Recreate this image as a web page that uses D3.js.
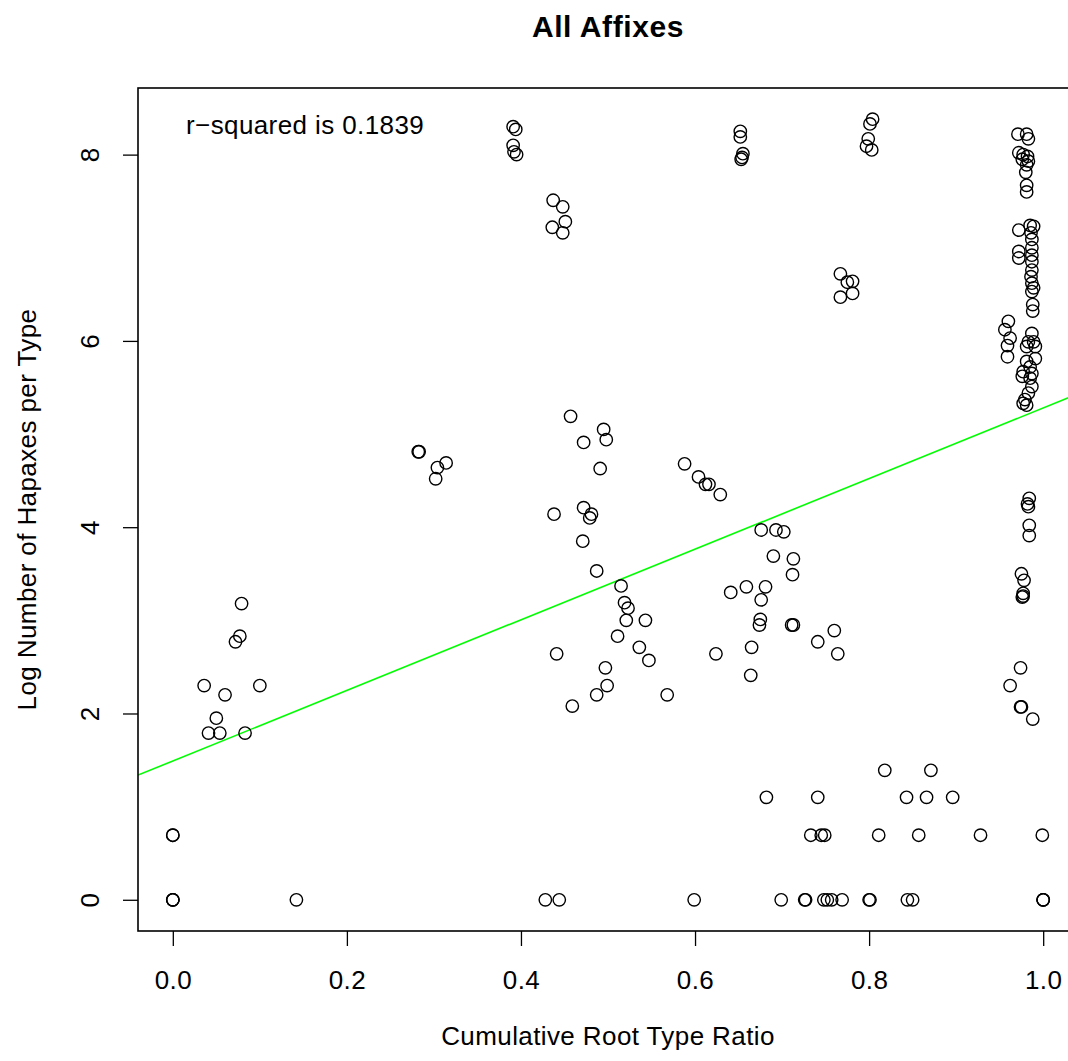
<!DOCTYPE html>
<html>
<head>
<meta charset="utf-8">
<script src="https://cdn.jsdelivr.net/npm/d3@7"></script>
<style>
  body { margin: 0; background: #fff; }
  svg text { font-family: "Liberation Sans", Arial, Helvetica, sans-serif; fill: #000; }
</style>
</head>
<body>
<div id="chart"></div>
<script>
// cumulative root type ratio (x) and log number of hapaxes per type (y)
const rootRatio = [
  0.000, 0.000, 0.000, 0.000, 0.000, 0.142,
  0.036, 0.100, 0.060, 0.050, 0.041, 0.054, 0.083,
  0.072, 0.077, 0.079,
  0.282, 0.283, 0.314, 0.304, 0.302,
  0.391, 0.394, 0.391, 0.392, 0.395,
  0.437, 0.448, 0.451, 0.436, 0.448,
  0.652, 0.652, 0.655, 0.654, 0.653,
  0.804, 0.801, 0.799, 0.797, 0.803,
  0.767, 0.775, 0.781, 0.781, 0.767,
  // middle cloud
  0.457, 0.495, 0.472, 0.498, 0.491, 0.588, 0.604, 0.612, 0.616, 0.629,
  0.438, 0.472, 0.481, 0.479, 0.471, 0.487, 0.515, 0.519, 0.523, 0.521,
  0.543, 0.511, 0.536, 0.441, 0.547, 0.497, 0.624, 0.664, 0.676, 0.693,
  0.702, 0.690, 0.713, 0.712, 0.641, 0.659, 0.681, 0.676, 0.675, 0.674,
  0.711, 0.713, 0.665, 0.760, 0.741, 0.764,
  0.499, 0.487, 0.459, 0.568,
  // low values
  0.818, 0.871, 0.682, 0.741, 0.843, 0.866, 0.896,
  0.733, 0.745, 0.749, 0.811, 0.857, 0.928, 0.999,
  0.428, 0.444, 0.599, 0.699, 0.726, 0.727, 0.748, 0.752, 0.757, 0.769,
  0.800, 0.801, 0.844, 0.850, 1.000, 1.000, 1.000,
  // column near 1.0
  0.971, 0.981, 0.983, 0.972, 0.977, 0.982, 0.976, 0.983, 0.981, 0.980,
  0.981, 0.981, 0.972, 0.985, 0.989, 0.986, 0.987, 0.972, 0.987, 0.987,
  0.987, 0.972, 0.987, 0.986, 0.987, 0.989, 0.987, 0.988, 0.988,
  0.960, 0.956, 0.962, 0.959, 0.959,
  0.987, 0.983, 0.989, 0.981, 0.991, 0.991, 0.981, 0.985, 0.977, 0.987,
  0.976, 0.985, 0.987, 0.983, 0.979, 0.981, 0.977,
  0.984, 0.982, 0.983, 0.984, 0.984, 0.975, 0.978, 0.977, 0.977, 0.976,
  0.974, 0.962, 0.974, 0.975, 0.988
];

const logHapaxes = [
  0, 0, 0, 0.693, 0.693, 0,
  2.30, 2.30, 2.20, 1.95, 1.79, 1.79, 1.79,
  2.77, 2.83, 3.18,
  4.81, 4.81, 4.69, 4.64, 4.52,
  8.30, 8.27, 8.10, 8.03, 8.00,
  7.51, 7.44, 7.28, 7.22, 7.16,
  8.25, 8.19, 8.01, 7.97, 7.95,
  8.38, 8.33, 8.17, 8.09, 8.05,
  6.72, 6.63, 6.64, 6.51, 6.47,
  // middle cloud
  5.19, 5.05, 4.91, 4.94, 4.63, 4.68, 4.54, 4.46, 4.46, 4.35,
  4.14, 4.21, 4.14, 4.10, 3.85, 3.53, 3.37, 3.19, 3.13, 3.00,
  3.00, 2.83, 2.71, 2.64, 2.57, 2.49, 2.64, 2.41, 3.97, 3.97,
  3.95, 3.69, 3.66, 3.49, 3.30, 3.36, 3.36, 3.22, 3.01, 2.95,
  2.95, 2.95, 2.71, 2.89, 2.77, 2.64,
  2.30, 2.20, 2.08, 2.20,
  // low values
  1.39, 1.39, 1.10, 1.10, 1.10, 1.10, 1.10,
  0.693, 0.693, 0.693, 0.693, 0.693, 0.693, 0.693,
  0, 0, 0, 0, 0, 0, 0, 0, 0, 0,
  0, 0, 0, 0, 0, 0, 0,
  // column near 1.0
  8.22, 8.22, 8.17, 8.02, 8.00, 7.98, 7.95, 7.93, 7.89, 7.81,
  7.67, 7.60, 7.19, 7.24, 7.23, 7.16, 7.09, 6.96, 7.00, 6.92,
  6.85, 6.89, 6.76, 6.69, 6.62, 6.57, 6.53, 6.39, 6.32,
  6.21, 6.12, 6.03, 5.95, 5.83,
  6.08, 5.99, 5.99, 5.94, 5.94, 5.81, 5.78, 5.72, 5.67, 5.65,
  5.62, 5.60, 5.51, 5.44, 5.37, 5.31, 5.33,
  4.31, 4.25, 4.22, 4.02, 3.91, 3.50, 3.43, 3.29, 3.26, 3.25,
  2.49, 2.30, 2.07, 2.07, 1.94
];

const xTicks = [0, 0.2, 0.4, 0.6, 0.8, 1.0];
const yTicks = [0, 2, 4, 6, 8];

// least squares line as drawn in the reference
const fitIntercept = 1.49;
const fitSlope = 3.79;
const rSquared = '0.1839';

const w = 1068;
const h = 1061;
const plot = { left: 138, top: 88, right: 1078, bottom: 931 };

const points = rootRatio.map((d, i) => ({ x: d, y: logHapaxes[i] }));

// R style 4% padding on each side
function padded(ext) {
  const p = (ext[1] - ext[0]) * 0.04;
  return [ext[0] - p, ext[1] + p];
}

const x = d3.scaleLinear()
  .domain(padded(d3.extent(rootRatio)))
  .range([plot.left, plot.right]);

const y = d3.scaleLinear()
  .domain(padded(d3.extent(logHapaxes)))
  .range([plot.bottom, plot.top]);

const svg = d3.select('#chart')
  .append('svg')
  .attr('width', w)
  .attr('height', h);

svg.append('defs').append('clipPath')
  .attr('id', 'clip')
  .append('rect')
  .attr('x', plot.left)
  .attr('y', plot.top)
  .attr('width', plot.right - plot.left)
  .attr('height', plot.bottom - plot.top);

// title
svg.append('text')
  .attr('x', (plot.left + plot.right) / 2)
  .attr('y', 37)
  .attr('text-anchor', 'middle')
  .style('font-size', '30px')
  .style('font-weight', 'bold')
  .style('letter-spacing', '0.6px')
  .text('All Affixes');

// axes
const xAxis = svg.append('g')
  .attr('transform', `translate(0, ${plot.bottom})`)
  .call(d3.axisBottom(x)
    .tickValues(xTicks)
    .tickFormat(d3.format('.1f'))
    .tickSize(15)
    .tickSizeOuter(0)
    .tickPadding(25));

xAxis.select('.domain').remove();
xAxis.selectAll('line').attr('stroke', '#000').attr('stroke-width', 1.3);
xAxis.selectAll('text')
  .attr('font-family', null)
  .style('font-size', '26px')
  .style('letter-spacing', '0.4px');

const yAxis = svg.append('g')
  .attr('transform', `translate(${plot.left}, 0)`)
  .call(d3.axisLeft(y)
    .tickValues(yTicks)
    .tickSize(15)
    .tickSizeOuter(0));

yAxis.select('.domain').remove();
yAxis.selectAll('line').attr('stroke', '#000').attr('stroke-width', 1.3);
yAxis.selectAll('text')
  .attr('x', null)
  .attr('dy', null)
  .attr('text-anchor', 'middle')
  .attr('transform', 'translate(-39, 0) rotate(-90)')
  .style('font-size', '26px');

// axis titles
svg.append('text')
  .attr('x', (plot.left + plot.right) / 2)
  .attr('y', 1045)
  .attr('text-anchor', 'middle')
  .style('font-size', '26px')
  .style('letter-spacing', '0.4px')
  .text('Cumulative Root Type Ratio');

svg.append('text')
  .attr('transform', `translate(36, ${(plot.top + plot.bottom) / 2}) rotate(-90)`)
  .attr('text-anchor', 'middle')
  .style('font-size', '26px')
  .style('letter-spacing', '0.4px')
  .text('Log Number of Hapaxes per Type');

// regression line
const xd = x.domain();
svg.append('line')
  .attr('clip-path', 'url(#clip)')
  .attr('x1', x(xd[0]))
  .attr('y1', y(fitIntercept + fitSlope * xd[0]))
  .attr('x2', x(xd[1]))
  .attr('y2', y(fitIntercept + fitSlope * xd[1]))
  .attr('stroke', '#00ff00')
  .attr('stroke-width', 1.6);

// points
svg.append('g')
  .selectAll('circle')
  .data(points)
  .enter()
  .append('circle')
  .attr('cx', d => x(d.x))
  .attr('cy', d => y(d.y))
  .attr('r', 6.2)
  .attr('fill', 'none')
  .attr('stroke', '#000')
  .attr('stroke-width', 1.4);

// r-squared note
svg.append('text')
  .attr('x', 186)
  .attr('y', 134)
  .style('font-size', '26px')
  .style('letter-spacing', '0.4px')
  .text(`r\u2212squared is ${rSquared}`);

// frame
svg.append('rect')
  .attr('x', plot.left)
  .attr('y', plot.top)
  .attr('width', plot.right - plot.left)
  .attr('height', plot.bottom - plot.top)
  .attr('fill', 'none')
  .attr('stroke', '#000')
  .attr('stroke-width', 1.6);
</script>
</body>
</html>
